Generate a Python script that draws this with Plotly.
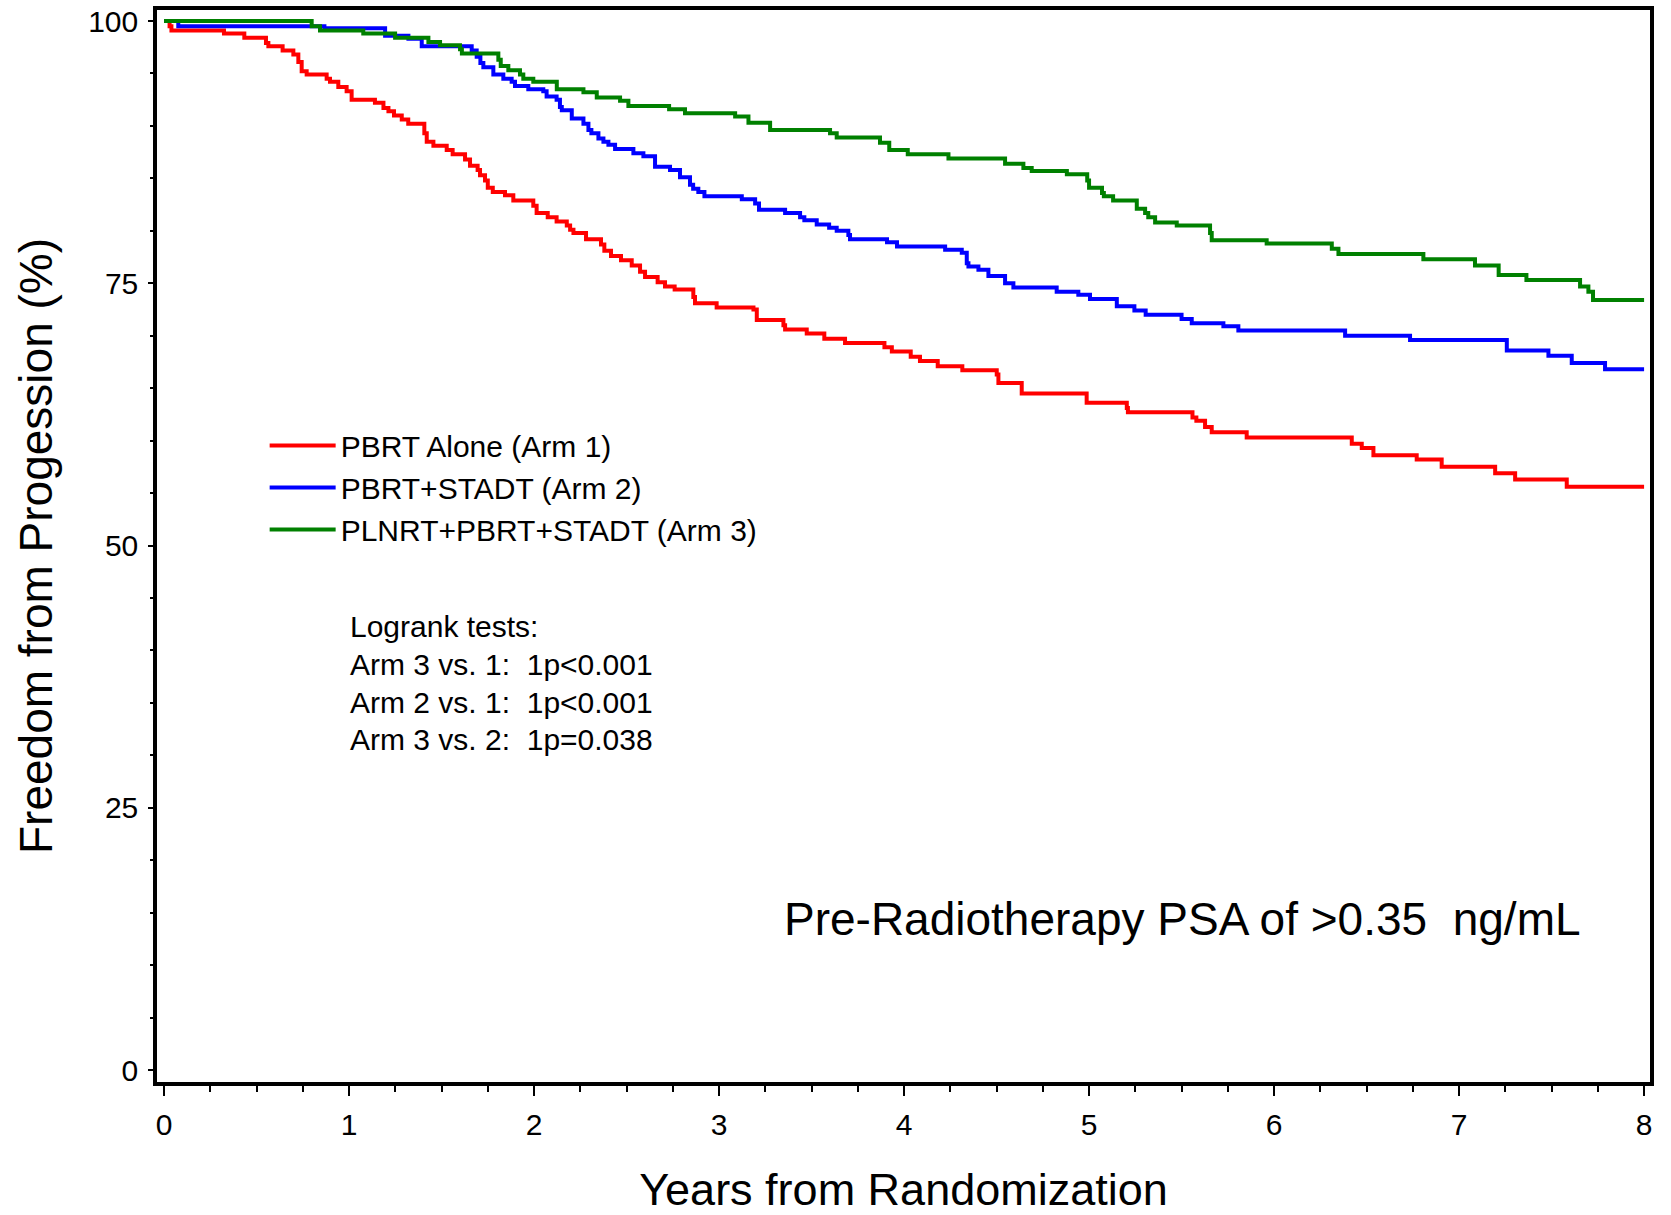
import plotly.graph_objects as go

# ---------------- data ----------------
arm1_t = [0, 0.03, 0.04, 0.324, 0.434, 0.551, 0.564, 0.641, 0.699, 0.726, 0.744, 0.771, 0.879, 0.897,
          0.942, 0.987, 1.014, 1.14, 1.186, 1.213, 1.243, 1.285, 1.32, 1.407, 1.42, 1.456, 1.528, 1.56,
          1.627, 1.654, 1.695, 1.708, 1.735, 1.75, 1.777, 1.843, 1.888, 1.996, 2.014, 2.074, 2.122,
          2.177, 2.195, 2.213, 2.281, 2.362, 2.38, 2.416, 2.47, 2.528, 2.573, 2.6, 2.668, 2.708, 2.76,
          2.861, 2.87, 2.987, 3.186, 3.204, 3.348, 3.357, 3.474, 3.569, 3.681, 3.894, 3.934, 4.036,
          4.086, 4.182, 4.315, 4.501, 4.51, 4.636, 4.987, 5.204, 5.21, 5.559, 5.58, 5.627, 5.663,
          5.852, 6.42, 6.474, 6.537, 6.771, 6.906, 7.195, 7.303, 7.582, 8.0]
arm1_s = [100, 99.5, 99.1, 98.8, 98.4, 97.9, 97.6, 97.2, 96.8, 96.1, 95.2, 94.9, 94.5, 94.2,
          93.7, 93.3, 92.5, 92.2, 91.7, 91.4, 91.0, 90.6, 90.2, 89.3, 88.5, 88.1, 87.7, 87.3,
          86.8, 86.2, 85.8, 85.3, 84.8, 84.1, 83.7, 83.4, 82.9, 82.4, 81.7, 81.3, 80.9,
          80.5, 80.1, 79.8, 79.2, 78.7, 78.1, 77.6, 77.2, 76.7, 76.1, 75.6, 75.1, 74.7, 74.4,
          73.7, 73.1, 72.7, 72.5, 71.5, 71.0, 70.6, 70.2, 69.7, 69.3, 68.9, 68.5, 68.0,
          67.6, 67.1, 66.7, 66.3, 65.5, 64.5, 63.6, 63.1, 62.7, 62.2, 61.9, 61.3, 60.8,
          60.3, 59.7, 59.3, 58.6, 58.2, 57.5, 56.9, 56.3, 55.6, 55.6]

arm2_t = [0, 0.077, 0.867, 1.195, 1.321, 1.393, 1.663, 1.69, 1.71, 1.726, 1.78, 1.834, 1.879, 1.897,
          1.969, 2.05, 2.068, 2.122, 2.14, 2.15, 2.204, 2.267, 2.294, 2.31, 2.348, 2.375, 2.402,
          2.438, 2.537, 2.591, 2.654, 2.735, 2.789, 2.843, 2.86, 2.888, 2.921, 3.123, 3.195, 3.216,
          3.357, 3.438, 3.461, 3.528, 3.595, 3.636, 3.699, 3.708, 3.908, 3.962, 4.222, 4.312,
          4.339, 4.348, 4.402, 4.456, 4.546, 4.591, 4.825, 4.942, 5.005, 5.15, 5.245, 5.306, 5.5,
          5.555, 5.726, 5.807, 6.384, 6.735, 7.258, 7.483, 7.609, 7.789, 8.0]
arm2_s = [100, 99.5, 99.3, 98.6, 98.3, 97.6, 97.2, 96.6, 96.0, 95.6, 94.9, 94.5, 94.2, 93.8,
          93.5, 93.3, 92.8, 92.5, 91.8, 91.5, 90.7, 90.2, 89.6, 89.3, 88.8, 88.5, 88.2,
          87.8, 87.4, 87.1, 86.1, 85.8, 85.1, 84.4, 84.0, 83.7, 83.3, 83.0, 82.6, 82.0,
          81.7, 81.3, 81.0, 80.6, 80.3, 80.0, 79.6, 79.2, 78.9, 78.5, 78.2, 77.9,
          76.9, 76.6, 76.3, 75.7, 75.0, 74.6, 74.2, 73.9, 73.5, 72.8, 72.4, 72.0, 71.6,
          71.2, 70.9, 70.5, 70.0, 69.6, 68.6, 68.1, 67.4, 66.8, 66.8]

arm3_t = [0, 0.798, 0.843, 1.077, 1.249, 1.429, 1.492, 1.6, 1.61, 1.807, 1.82, 1.861, 1.924, 1.942,
          1.996, 2.123, 2.267, 2.339, 2.465, 2.51, 2.73, 2.816, 3.087, 3.159, 3.276, 3.6, 3.636,
          3.87, 3.92, 4.02, 4.24, 4.546, 4.645, 4.69, 4.88, 4.99, 5.0, 5.07, 5.08, 5.13, 5.258,
          5.303, 5.32, 5.357, 5.474, 5.654, 5.663, 5.96, 6.312, 6.348, 6.807, 7.086, 7.214, 7.364,
          7.654, 7.699, 7.724, 8.0]
arm3_s = [100, 99.5, 99.1, 98.8, 98.4, 98.0, 97.7, 97.3, 96.9, 96.3, 95.7, 95.3, 94.9, 94.5,
          94.2, 93.5, 93.2, 92.7, 92.4, 91.9, 91.6, 91.2, 90.9, 90.3, 89.6, 89.3, 88.9,
          88.4, 87.7, 87.3, 86.9, 86.4, 86.0, 85.7, 85.4, 84.8, 84.1, 83.6, 83.3, 82.9, 82.1,
          81.7, 81.3, 80.8, 80.5, 79.8, 79.1, 78.8, 78.3, 77.8, 77.3, 76.7, 75.8, 75.3,
          74.7, 74.2, 73.4, 73.4]

series_names = ["PBRT Alone (Arm 1)", "PBRT+STADT (Arm 2)", "PLNRT+PBRT+STADT (Arm 3)"]
series_colors = ["#FF0000", "#0000FF", "#008000"]

x_ticks = [0, 1, 2, 3, 4, 5, 6, 7, 8]
y_ticks = [0, 25, 50, 75, 100]

logrank_lines = ["Logrank tests:",
                 "Arm 3 vs. 1:\u00a0 1p&lt;0.001",
                 "Arm 2 vs. 1:\u00a0 1p&lt;0.001",
                 "Arm 3 vs. 2:\u00a0 1p=0.038"]
subset_label = "Pre-Radiotherapy PSA of &gt;0.35\u00a0 ng/mL"

FONT = "Liberation Sans, Arial, Helvetica, sans-serif"

# ---------------- figure ----------------
fig = go.Figure()
for t, s, name, col in zip([arm1_t, arm2_t, arm3_t], [arm1_s, arm2_s, arm3_s],
                           series_names, series_colors):
    fig.add_trace(go.Scatter(x=t, y=s, mode="lines", name=name,
                             line=dict(color=col, width=4, shape="hv")))

fig.update_layout(
    width=1671, height=1215,
    margin=dict(l=157, r=21, t=10, b=133),
    paper_bgcolor="white", plot_bgcolor="white",
    font=dict(family=FONT, color="black"),
    showlegend=True,
    legend=dict(x=0.0721, y=0.618, xanchor="left", yanchor="top",
                bgcolor="rgba(0,0,0,0)", borderwidth=0,
                font=dict(size=30, family=FONT, color="black"),
                itemwidth=66, tracegroupgap=0),
)

fig.update_xaxes(
    range=[-0.038, 8.032], tickmode="array", tickvals=x_ticks,
    ticks="outside", ticklen=10, tickwidth=2, tickcolor="black",
    showline=True, linewidth=3.5, linecolor="black", mirror=True,
    showgrid=False, zeroline=False, automargin=False,
    minor=dict(dtick=0.25, tick0=0, ticks="outside", ticklen=6, tickwidth=2,
               tickcolor="black", showgrid=False),
    tickfont=dict(size=30, family=FONT, color="black"),
    ticklabelstandoff=3,
    title=dict(text="Years from Randomization", font=dict(size=45, family=FONT, color="black"),
               standoff=40),
)
fig.update_yaxes(
    range=[-1.14, 101.05], tickmode="array", tickvals=y_ticks,
    ticks="outside", ticklen=5, tickwidth=2, tickcolor="black",
    showline=True, linewidth=3.5, linecolor="black", mirror=True,
    showgrid=False, zeroline=False, automargin=False,
    minor=dict(dtick=5, tick0=0, ticks="outside", ticklen=3, tickwidth=2,
               tickcolor="black", showgrid=False),
    tickfont=dict(size=30, family=FONT, color="black"),
    ticklabelstandoff=4,
    title=dict(text="Freedom from Progession (%)", font=dict(size=46, family=FONT, color="black"),
               standoff=22),
)

logrank_y = [0.4247, 0.3890, 0.3542, 0.3194]
for line_text, yy in zip(logrank_lines, logrank_y):
    fig.add_annotation(text=line_text, xref="paper", yref="paper",
                       x=0.1276, y=yy, xanchor="left", yanchor="middle", align="left",
                       showarrow=False, font=dict(size=30, family=FONT, color="black"))
fig.add_annotation(text=subset_label, xref="paper", yref="paper",
                   x=0.687, y=0.1524, xanchor="center", yanchor="middle",
                   showarrow=False, font=dict(size=46, family=FONT, color="black"))

fig.write_html("out.html")
